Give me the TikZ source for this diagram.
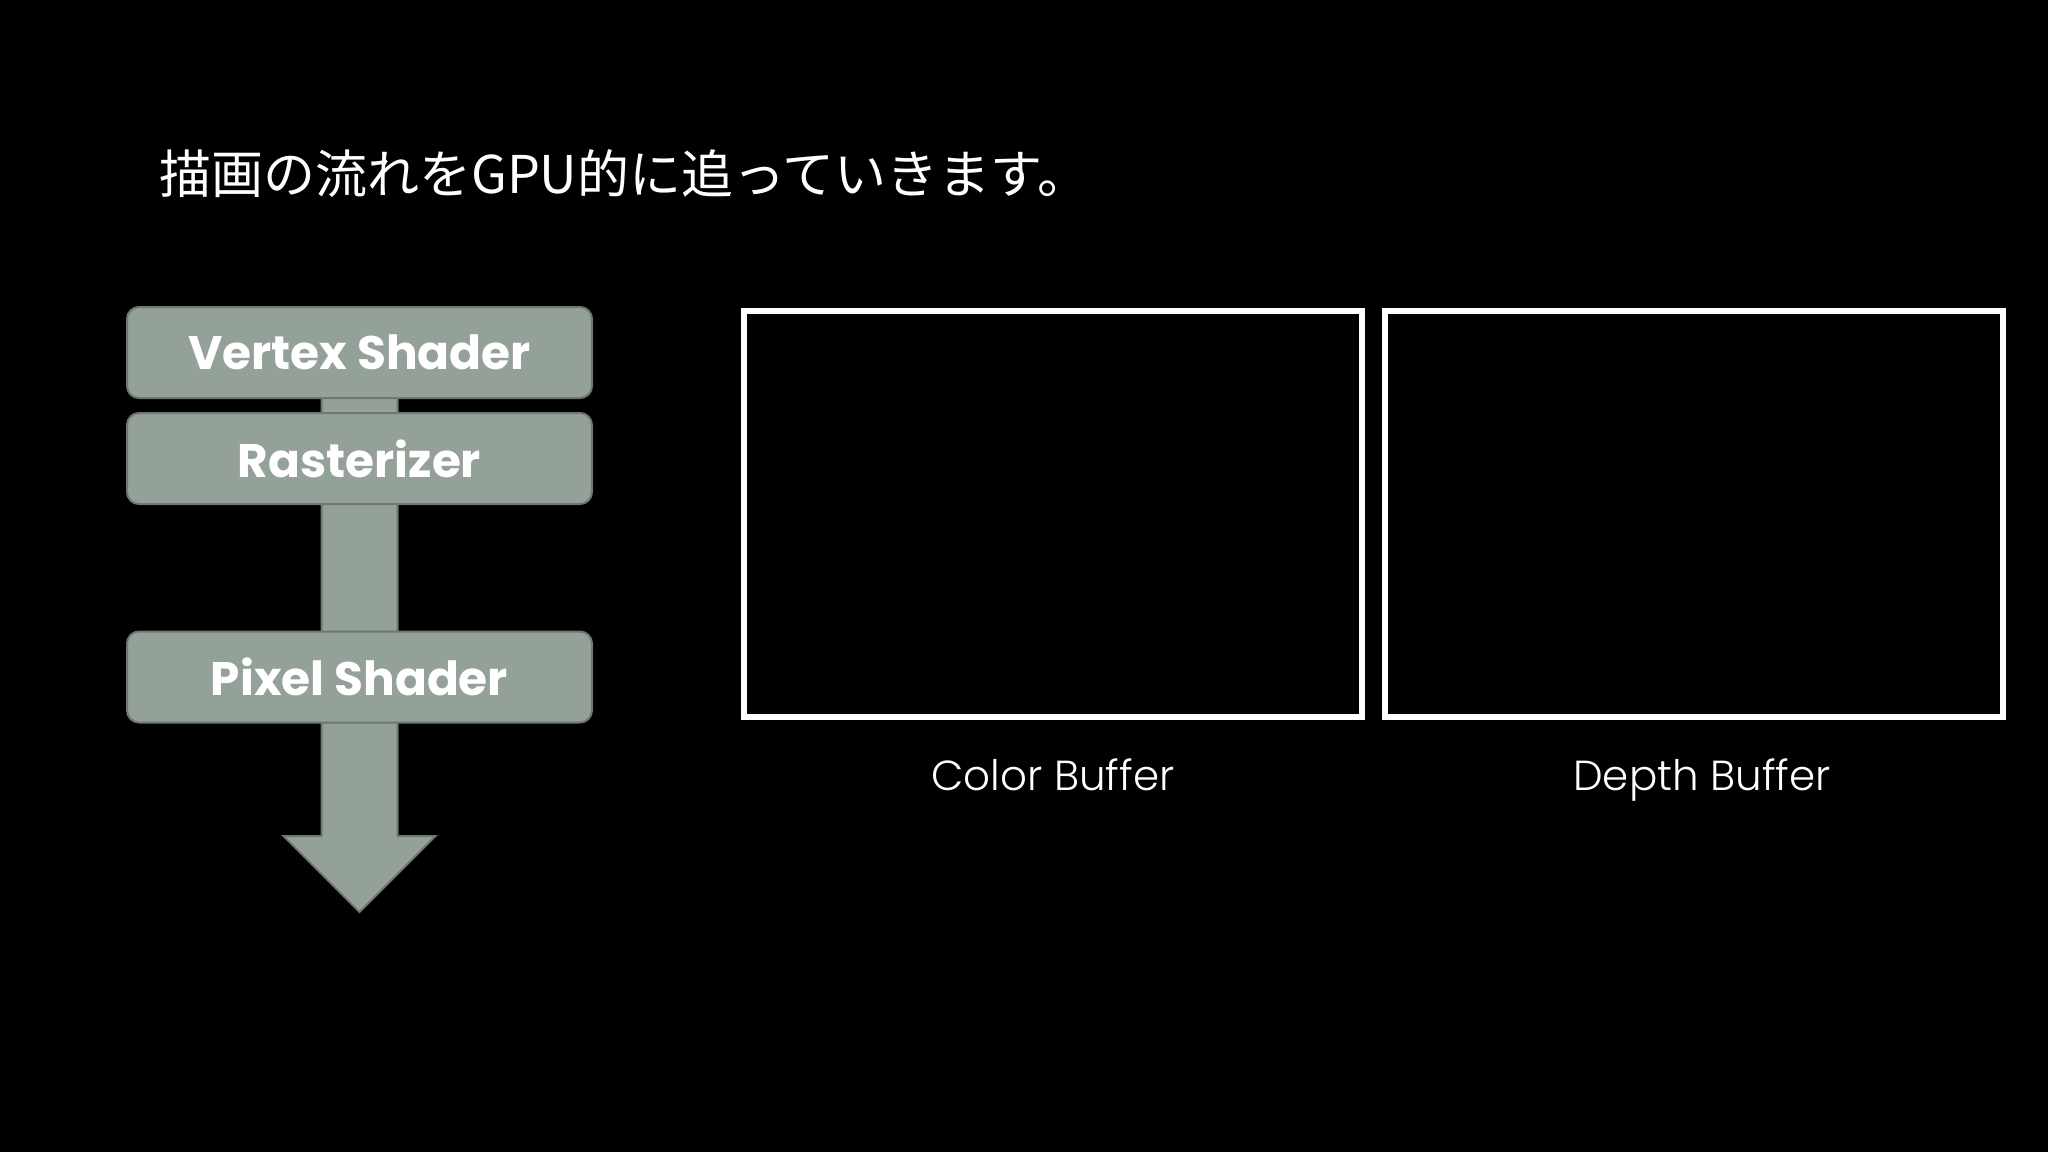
\documentclass[tikz,border=0pt]{standalone}
\usepackage{fontspec}
\usetikzlibrary{calc}
\setmainfont{Poppins}
\newfontfamily\lightf{Poppins Light}
\newfontfamily\jp{Noto Sans CJK JP}
\definecolor{boxfill}{RGB}{148,161,152}
\definecolor{boxedge}{RGB}{108,120,112}
\tikzset{
  stage/.style={draw=boxedge, line width=2pt, fill=boxfill, rounded corners=12pt,
    minimum width=465pt, minimum height=91pt, inner sep=0pt, text=white,
    font=\fontsize{47}{54}\selectfont\bfseries},
  bufbox/.style={draw=white, line width=6pt, minimum width=618pt, minimum height=406pt, inner sep=0pt},
  buflabel/.style={text=white, font=\lightf\fontsize{42}{50}\selectfont, inner sep=0pt, anchor=base}
}
\begin{document}
\begin{tikzpicture}[x=1pt,y=-1pt]
\fill[black] (0,0) rectangle (2048,1152);
\useasboundingbox (0,0) rectangle (2048,1152);

\node[anchor=west, inner sep=0pt, text=white, font=\jp\fontsize{52}{60}\selectfont] (title) at (159,174) {描画の流れをGPU的に追っていきます。};

% stage nodes positions
\coordinate (vsc) at (359.5,352.5);
\coordinate (tip) at (359.5,912);
% block arrow behind
\draw[boxedge, line width=2pt, fill=boxfill, line join=miter]
  ($(vsc)+(-38,0)$) -- ($(vsc)+(38,0)$) -- ($(tip)+(38,-76)$) -- ($(tip)+(76,-76)$) -- (tip)
  -- ($(tip)+(-76,-76)$) -- ($(tip)+(-38,-76)$) -- cycle;

\node[stage] (vs) at (vsc) {Vertex Shader};
\node[stage] (ras) at (359.5,458.5) {Rasterizer};
\node[stage] (ps) at (359.5,677) {Pixel Shader};

\node[bufbox] (color) at (1053,514) {};
\node[bufbox] (depth) at (1694,514) {};
\node[buflabel] (clabel) at (1053,790) {Color Buffer};
\node[buflabel] (dlabel) at (1702,790) {Depth Buffer};
\end{tikzpicture}
\end{document}
